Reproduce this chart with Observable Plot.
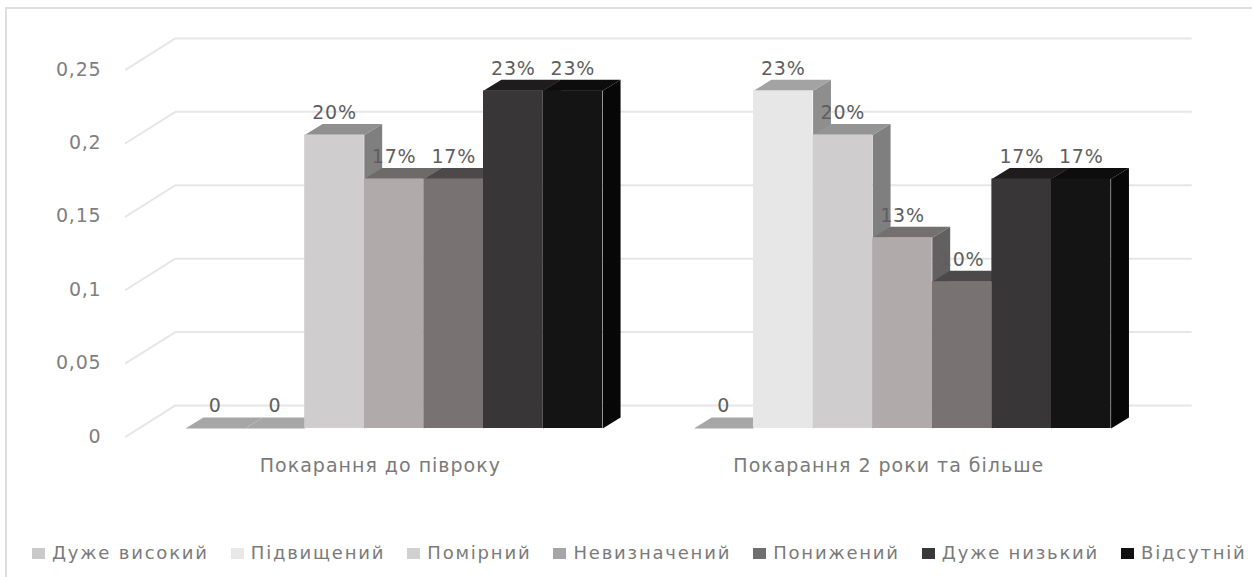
<!DOCTYPE html>
<html>
<head>
<meta charset="utf-8">
<script src="https://cdn.jsdelivr.net/npm/d3@7"></script>
<script src="https://cdn.jsdelivr.net/npm/@observablehq/plot@0.6"></script>
<style>
html,body{margin:0;padding:0;background:#fff;width:1252px;height:577px;overflow:hidden}
#frame{position:absolute;left:5px;top:7px;width:1247px;height:570px;border-left:2px solid #dedede;border-top:2px solid #dedede;box-sizing:border-box;pointer-events:none}
#chart{position:absolute;left:0;top:0}
#chart svg{background:transparent;font-family:"DejaVu Sans",sans-serif}
#chart svg text{letter-spacing:.8px}
#chart svg .cat text{letter-spacing:1px}
#legend{position:absolute;left:32px;top:541px;display:flex;gap:22px;font:18px "DejaVu Sans",sans-serif;color:#7a7a7a;letter-spacing:1.8px;white-space:nowrap;line-height:24px}
#legend .i{display:flex;align-items:center;gap:7px}
#legend .s{width:13px;height:11px;display:inline-block}
</style>
</head>
<body>
<div id="frame"></div>
<div id="chart"></div>
<div id="legend"></div>
<script>
const categories = ["Покарання до півроку", "Покарання 2 роки та більше"];
const series = ["Дуже високий", "Підвищений", "Помірний", "Невизначений", "Понижений", "Дуже низький", "Відсутній"];
const valuesFirst = [0, 0, 0.20, 0.17, 0.17, 0.23, 0.23];
const valuesSecond = [0, 0.23, 0.20, 0.13, 0.10, 0.17, 0.17];
const yTicks = [0, 0.05, 0.1, 0.15, 0.2, 0.25];

// colours per series
const legendColors = ["#c9c9c9", "#e8e8e8", "#d0d0d0", "#a6a6a6", "#6f6f6f", "#383838", "#111111"];
const frontFirst = ["#a8a8a8", "#a8a8a8", "#cfcdcd", "#b0aaab", "#787273", "#383636", "#141414"];
const frontSecond = ["#a8a8a8", "#e7e7e7", "#cfcdcd", "#b0aaab", "#787273", "#383636", "#141414"];
const topFirst = ["#a6a6a6", "#a6a6a6", "#8f8f8f", "#6f6a6a", "#4d4849", "#1e1c1c", "#0d0d0d"];
const topSecond = ["#a6a6a6", "#a3a3a3", "#949494", "#747070", "#4d4849", "#1e1c1c", "#0d0d0d"];
const sideFirst = ["#8f8f8f", "#8f8f8f", "#7f7f7f", "#625e5e", "#3a3536", "#2a2828", "#070707"];
const sideSecond = ["#8f8f8f", "#8e8e8e", "#7f7f7f", "#626060", "#3f3b3c", "#2a2828", "#070707"];

// oblique projection, expressed in scale units
const depthX = 0.30, depthY = 0.0075;          // bar depth
const groupStart = [0, 8.53];                  // first slot of each cluster
const wallX0 = -0.17, wallX1 = 16.87, wallY = 0.0157, floorX = -1.0, floorY = -0.0055;

const rows = [valuesFirst, valuesSecond].flatMap((vals, g) => vals.map((v, i) => ({
  g, i, v,
  x1: groupStart[g] + i,
  x2: groupStart[g] + i + 1,
  front: (g ? frontSecond : frontFirst)[i],
  top: (g ? topSecond : topFirst)[i],
  side: (g ? sideSecond : sideFirst)[i],
  label: v === 0 ? "0" : Math.round(v * 100) + "%"
})));

// top and side faces as closed polygons, painted left to right
const faces = rows.flatMap(r => {
  const side = [[r.x2, 0], [r.x2 + depthX, depthY], [r.x2 + depthX, r.v + depthY], [r.x2, r.v]];
  const top = [[r.x1, r.v], [r.x1 + depthX, r.v + depthY], [r.x2 + depthX, r.v + depthY], [r.x2, r.v]];
  const out = [];
  if (r.v > 0) side.forEach(p => out.push({id: `s${r.g}${r.i}`, x: p[0], y: p[1], c: r.side}));
  top.forEach(p => out.push({id: `t${r.g}${r.i}`, x: p[0], y: p[1], c: r.top}));
  return out;
});

const wall = yTicks.flatMap(t => [
  {t, x: floorX, y: t + floorY},
  {t, x: wallX0, y: t + wallY},
  {t, x: wallX1, y: t + wallY}
]);

const plot = Plot.plot({
  width: 1252,
  height: 500,
  marginLeft: 105,
  marginRight: 0,
  marginTop: 0,
  marginBottom: 0,
  style: {background: "transparent", overflow: "visible"},
  x: {type: "linear", domain: [0, 17], range: [185, 1198.2], axis: null},
  y: {type: "linear", domain: [0, 0.25], range: [428, 61]},
  marks: [
    Plot.line(wall, {x: "x", y: "y", z: "t", stroke: "#e6e6e6", strokeWidth: 2, curve: "linear"}),
    Plot.axisY({
      ticks: yTicks,
      tickSize: 0,
      tickPadding: 0,
      dx: -4,
      dy: 8,
      label: null,
      fontSize: 19,
      color: "#7f7f7f",
      tickFormat: d => String(d).replace(".", ",")
    }),
    Plot.line(faces, {x: "x", y: "y", z: "id", fill: "c", stroke: null, curve: "linear"}),
    Plot.rect(rows.filter(r => r.v > 0), {x1: "x1", x2: "x2", y1: 0, y2: "v", fill: "front", inset: 0}),
    Plot.text(rows, {
      x: r => r.x1 + 0.5,
      y: r => r.v + depthY + 0.0035,
      text: "label",
      fontSize: 19,
      fill: "#5e5e5e",
      lineAnchor: "bottom"
    }),
    Plot.text(categories, {
      x: (d, i) => groupStart[i] + 3.27,
      y: -0.0252,
      text: d => d,
      fontSize: 19,
      fill: "#7a7a7a",
      className: "cat"
    })
  ]
});
document.getElementById("chart").appendChild(plot);

const lg = document.getElementById("legend");
series.forEach((s, i) => {
  const it = document.createElement("span");
  it.className = "i";
  const sw = document.createElement("span");
  sw.className = "s";
  sw.style.background = legendColors[i];
  const t = document.createElement("span");
  t.textContent = s;
  it.append(sw, t);
  lg.append(it);
});
</script>
</body>
</html>
